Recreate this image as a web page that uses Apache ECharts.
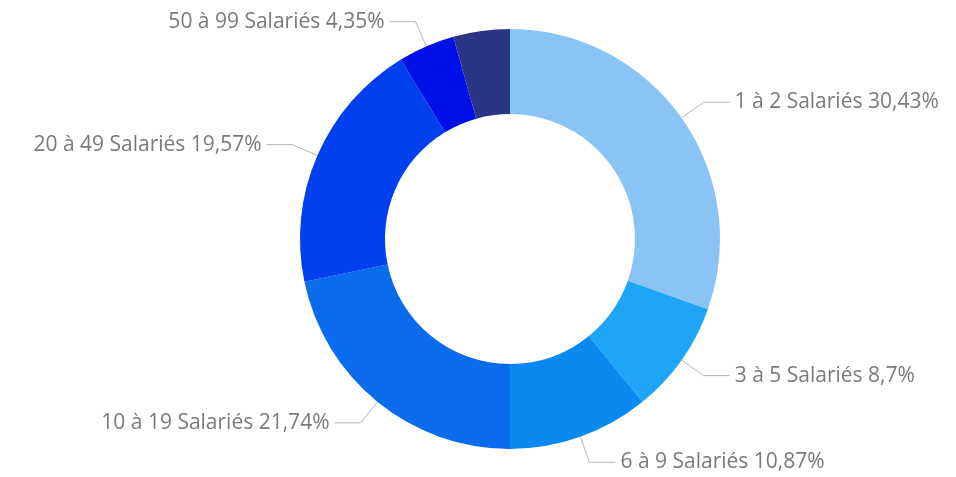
<!DOCTYPE html>
<html>
<head>
<meta charset="utf-8">
<script src="https://cdn.jsdelivr.net/npm/echarts@6/dist/echarts.min.js"></script>
<style>
    html, body { margin: 0; padding: 0; background: #fff; }
    #chart { width: 956px; height: 477px; }
</style>
</head>
<body>
<div id="chart"></div>
<script>
// tranches d'effectif
var categories = ['1 à 2 Salariés', '3 à 5 Salariés', '6 à 9 Salariés', '10 à 19 Salariés',
    '20 à 49 Salariés', '50 à 99 Salariés', '100 à 199 Salariés'];
var values = [30.43, 8.7, 10.87, 21.74, 19.57, 4.35, 4.35];
var colors = ['#8AC4F5', '#1EA5F7', '#0A8AF0', '#0A6CEC', '#0040EE', '#0010E8', '#2B3585'];
var hiddenLabels = ['100 à 199 Salariés'];   // étiquette non affichée

var myChart = echarts.init(document.getElementById('chart'));

var data = categories.map(function (c, i) {
    var item = { name: c, value: values[i], itemStyle: { color: colors[i] } };
    if (hiddenLabels.indexOf(c) >= 0) {
        item.label = { show: false };
        item.labelLine = { show: false };
    }
    return item;
});

var option = {
    animation: false,
    series: [{
        type: 'pie',
        center: [510, 239],
        radius: [125, 210],
        startAngle: 90,
        clockwise: true,
        avoidLabelOverlap: false,
        label: {
            show: true,
            fontFamily: 'Open Sans',
            fontSize: 21,
            padding: [6, 0, 0, 0],
            color: '#7a7a7a',
            formatter: function (p) {
                return p.name + ' ' + String(p.value).replace('.', ',') + '%';
            }
        },
        labelLine: {
            length: 27,
            length2: 26,
            lineStyle: { color: '#b5b5b5', width: 1 }
        },
        data: data
    }]
};
myChart.setOption(option);
</script>
</body>
</html>
